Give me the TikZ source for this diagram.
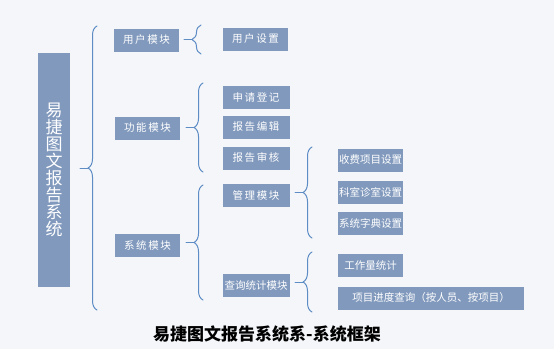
\documentclass[tikz,border=0pt]{standalone}
\usepackage{fontspec}
\setmainfont{Noto Sans CJK SC}
\usetikzlibrary{decorations.pathreplacing}
\definecolor{boxblue}{HTML}{8199BD}
\definecolor{braceblue}{HTML}{5E8CC4}
\definecolor{paper}{HTML}{F4F6FA}
\tikzset{
  modbox/.style={fill=boxblue,text=white,inner sep=0pt,minimum width=65pt,
    minimum height=23pt,font=\fontsize{10.5}{12}\selectfont},
  wide4/.style={font=\fontsize{10.5}{12}\selectfont\addfontfeature{LetterSpace=15}},
  curly/.style={draw=braceblue,line width=1pt,decorate,
    decoration={brace,amplitude=9pt}},
  tipline/.style={draw=braceblue,line width=1pt}
}
\begin{document}
\begin{tikzpicture}[x=1pt,y=-1pt,line cap=round,line join=round]

% canvas
\fill[paper] (0,0) rectangle (554,349);
\useasboundingbox (0,0) rectangle (554,349);

% main title box
\node[fill=boxblue,text=white,inner sep=0pt,minimum width=32pt,minimum height=234pt,
  align=center,font=\fontsize{17}{17}\selectfont] (sys) at (54,170)
  {易\\捷\\图\\文\\报\\告\\系\\统};

% first level
\node[modbox,wide4] (yhmk) at (146.5,40) {用户模块};
\node[modbox,wide4] (gnmk) at (147.5,128) {功能模块};
\node[modbox,wide4] (xtmk) at (147.5,245) {系统模块};

% second level
\node[modbox,wide4] (yhsz) at (255.5,39) {用户设置};
\node[modbox,wide4,minimum width=67pt] (sqdj) at (256,97) {申请登记};
\node[modbox,wide4,minimum width=67pt] (bgbj) at (256,127) {报告编辑};
\node[modbox,wide4,minimum width=67pt] (bgsh) at (256,158) {报告审核};
\node[modbox,wide4,minimum width=67pt] (glmk) at (256,195.5) {管理模块};
\node[modbox,minimum width=67pt] (cxtj) at (256,285.5) {查询统计模块};

% third level
\node[modbox] (sfxm) at (370.5,160) {收费项目设置};
\node[modbox] (kszs) at (370.5,192.5) {科室诊室设置};
\node[modbox] (xtzd) at (370.5,223.5) {系统字典设置};
\node[modbox] (gzl) at (370.5,265.5) {工作量统计};
\node[modbox,minimum width=186pt] (xmjd) at (431,298) {项目进度查询（按人员、按项目）};

% braces (arm ends) and tips
\coordinate (b0a) at (97,310);  \coordinate (b0b) at (97,26);  \coordinate (t0) at (88,168);
\coordinate (b1a) at (201,54);  \coordinate (b1b) at (201,25);  \coordinate (t1) at (192,39.5);
\coordinate (b2a) at (203,172); \coordinate (b2b) at (203,83);  \coordinate (t2) at (194,127.5);
\coordinate (b3a) at (203,300); \coordinate (b3b) at (203,185); \coordinate (t3) at (194,242.5);
\coordinate (b4a) at (312,238); \coordinate (b4b) at (312,147); \coordinate (t4) at (303,192.5);
\coordinate (b5a) at (312,312); \coordinate (b5b) at (312,252); \coordinate (t5) at (303,282);

\foreach \i in {0,...,5}{
  \draw[curly] (b\i a) -- (b\i b);
  \draw[tipline] (t\i) -- ++(-8,0);
}

% caption
\node[font=\fontsize{17}{17}\selectfont\bfseries] (cap) at (267,334) {易捷图文报告系统系-系统框架};

\end{tikzpicture}
\end{document}
